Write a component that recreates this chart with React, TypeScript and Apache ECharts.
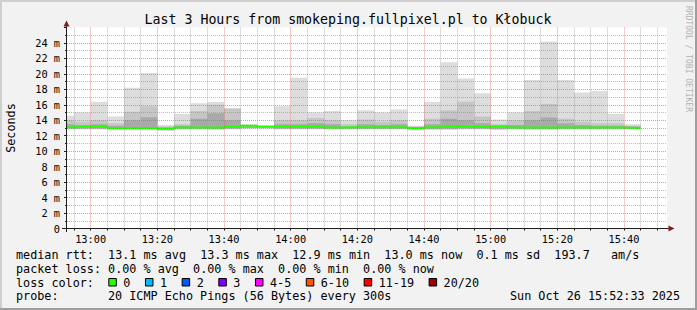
import React, { useEffect, useRef } from 'react';
import * as echarts from 'echarts';

// ---------- data ----------
const TITLE = 'Last 3 Hours from smokeping.fullpixel.pl to Kłobuck';
const Y_TITLE = 'Seconds';
const WATERMARK = 'RRDTOOL / TOBI OETIKER';
const TIMESTAMP = 'Sun Oct 26 15:52:33 2025';
const PROBE_TEXT = '20 ICMP Echo Pings (56 Bytes) every 300s';

// end time of every 5-minute step (each value covers the 5 minutes before it)
const stepEnds = [
  '12:55', '13:00', '13:05', '13:10', '13:15', '13:20', '13:25', '13:30', '13:35', '13:40',
  '13:45', '13:50', '13:55', '14:00', '14:05', '14:10', '14:15', '14:20', '14:25', '14:30',
  '14:35', '14:40', '14:45', '14:50', '14:55', '15:00', '15:05', '15:10', '15:15', '15:20',
  '15:25', '15:30', '15:35', '15:40', '15:45',
];
// smoke (ms): outer max, second band top, core band top, band bottom, outer min
const smokeMax = [
  14.6, 15.0, 16.4, 14.5, 18.2, 20.1, 13.4, 14.8, 16.2, 16.4,
  15.6, 13.5, 13.3, 15.8, 19.5, 15.0, 15.2, 14.0, 15.3, 15.0,
  15.4, 13.3, 16.4, 21.5, 19.4, 17.5, 14.1, 15.0, 19.2, 24.2,
  19.2, 17.6, 17.8, 14.8, 13.5,
];
const smokeMid = [
  14.0, 13.8, 14.0, 13.6, 15.1, 15.8, 13.2, 13.5, 15.2, 16.0,
  15.5, 13.3, 13.2, 14.0, 14.0, 14.3, 14.0, 13.5, 14.1, 13.8,
  14.0, 13.2, 14.2, 15.3, 16.4, 14.5, 13.5, 14.0, 15.2, 16.1,
  14.2, 13.8, 13.6, 13.6, 13.3,
];
const smokeCore = [
  13.5, 13.4, 13.5, 13.3, 14.0, 14.4, 13.05, 13.3, 14.2, 14.9,
  14.0, 13.15, 13.1, 13.5, 13.5, 13.6, 13.5, 13.2, 13.5, 13.4,
  13.5, 13.1, 13.5, 14.2, 14.0, 13.6, 13.3, 13.4, 14.0, 14.35,
  13.6, 13.4, 13.3, 13.3, 13.15,
];
const smokeLow = [
  12.95, 12.95, 12.95, 12.9, 12.9, 12.9, 12.8, 12.95, 12.95, 12.9,
  12.95, 13.0, 13.0, 12.95, 12.95, 12.95, 12.95, 12.95, 12.95, 12.95,
  12.95, 12.85, 12.9, 12.9, 12.95, 12.95, 12.9, 12.95, 12.9, 12.9,
  12.95, 12.95, 12.95, 12.95, 12.95,
];
const smokeMin = [
  12.8, 12.8, 12.8, 12.75, 12.75, 12.75, 12.6, 12.8, 12.8, 12.75,
  12.8, 12.85, 12.85, 12.8, 12.8, 12.8, 12.8, 12.8, 12.8, 12.8,
  12.8, 12.7, 12.7, 12.75, 12.8, 12.8, 12.7, 12.8, 12.75, 12.75,
  12.8, 12.8, 12.8, 12.8, 12.8,
];
const medianRtt = [
  13.1, 13.15, 13.15, 13.0, 13.0, 13.0, 12.9, 13.05, 13.05, 13.05,
  13.15, 13.3, 13.2, 13.15, 13.15, 13.15, 13.05, 13.1, 13.1, 13.1,
  13.1, 13.0, 13.1, 13.2, 13.15, 13.1, 13.2, 13.05, 13.05, 13.05,
  13.05, 13.05, 13.05, 13.05, 13.0,
];

const xTickLabels = ['13:00', '13:20', '13:40', '14:00', '14:20', '14:40', '15:00', '15:20', '15:40'];
const xMinorTicks = [
  '12:55', '13:00', '13:05', '13:10', '13:15', '13:20', '13:25', '13:30', '13:35', '13:40',
  '13:45', '13:50', '13:55', '14:00', '14:05', '14:10', '14:15', '14:20', '14:25', '14:30',
  '14:35', '14:40', '14:45', '14:50', '14:55', '15:00', '15:05', '15:10', '15:15', '15:20',
  '15:25', '15:30', '15:35', '15:40', '15:45', '15:50',
];
const yMajor = [2, 4, 6, 8, 10, 12, 14, 16, 18, 20, 22, 24];
const yMinor = [1, 3, 5, 7, 9, 11, 13, 15, 17, 19, 21, 23, 25];

const rttStatValues = [13.1, 13.3, 12.9, 13.0];
const lossStatValues = [0, 0, 0, 0];
const statNames = ['avg', 'max', 'min', 'now'];
const rttSd = 0.1;
const amps = 193.7;
const lossLabels = ['0', '1', '2', '3', '4-5', '6-10', '11-19', '20/20'];
const lossColors = ['#26ff00', '#00b8ff', '#0059ff', '#7e00ff', '#ff00ff', '#ff5500', '#ff0000', '#a10000'];

// ---------- helpers ----------
const toMin = (s: string) => {
  const [h, m, sec] = s.split(':').map(Number);
  return h * 60 + m + (sec || 0) / 60;
};
const fmtTime = (v: number) => {
  const r = Math.round(v);
  const h = Math.floor(r / 60);
  const m = r - h * 60;
  return `${h}:${String(m).padStart(2, '0')}`;
};
const STEP = 5;
const VIEW_START = toMin('12:52:54');
const VIEW_END = VIEW_START + 180;
const MONO = "'DejaVu Sans Mono', monospace";

export default function App() {
  const ref = useRef<HTMLDivElement>(null);
  useEffect(() => {
    if (!ref.current) return;
    const chart = echarts.init(ref.current, undefined, { renderer: 'svg' });

    const smokeData = stepEnds.map((t, i) => [toMin(t), smokeMin[i], smokeMax[i], smokeLow[i], smokeMid[i], smokeCore[i]]);
    const medianData = stepEnds.map((t, i) => [toMin(t) - STEP, medianRtt[i]]);
    medianData.push([toMin(stepEnds[stepEnds.length - 1]), medianRtt[medianRtt.length - 1]]);

    const majorX = xTickLabels.map(toMin);
    const minorX = xMinorTicks.map(toMin).filter((v) => !majorX.includes(v));
    const redDot = { color: 'rgba(222,79,79,0.6)', width: 1, type: [1, 1] as number[] };
    const greyDot = { color: 'rgba(143,143,143,0.6)', width: 1, type: [1, 1] as number[] };
    const gridLines = [
      ...minorX.map((v) => ({ xAxis: v, lineStyle: greyDot })),
      ...yMinor.map((v) => ({ yAxis: v, lineStyle: greyDot })),
      ...majorX.map((v) => ({ xAxis: v, lineStyle: redDot })),
      ...yMajor.map((v) => ({ yAxis: v, lineStyle: redDot })),
    ];

    const line1 =
      'median rtt:  ' +
      rttStatValues.map((v, i) => `${v.toFixed(1)} ms ${statNames[i]}`).join('  ') +
      `  ${rttSd.toFixed(1)} ms sd  ${amps.toFixed(1)}   am/s`;
    const line2 =
      'packet loss: ' + lossStatValues.map((v, i) => `${v.toFixed(2)} % ${statNames[i]}`).join('  ');

    const legendFont = { fontFamily: MONO, fontSize: 11.78, fill: '#000' };
    const lossItems: any[] = [];
    let bx = 108.3;
    lossLabels.forEach((lab, i) => {
      lossItems.push({
        type: 'rect', shape: { x: bx + 0.5, y: 278.5, width: 7.5, height: 7.5 },
        style: { fill: lossColors[i], stroke: '#000', lineWidth: 1 },
      });
      lossItems.push({
        type: 'text', x: bx + 15, y: 282.5,
        style: { text: lab, ...legendFont, verticalAlign: 'middle' },
      });
      bx += 29.6 + 7.07 * lab.length;
    });

    const option: any = {
      animation: false,
      backgroundColor: '#f2f2f2',
      grid: {
        left: 67, top: 27.5, right: 30, bottom: 81.5,
        show: true, backgroundColor: '#ffffff', borderWidth: 0,
        containLabel: false, outerBoundsMode: 'none',
      },
      xAxis: {
        type: 'value', min: VIEW_START, max: VIEW_END,
        axisLine: { show: false },
        splitLine: { show: false },
        axisTick: {
          show: true, length: 2, customValues: xMinorTicks.map(toMin),
          lineStyle: { color: '#1f1f1f' },
        },
        axisLabel: {
          customValues: majorX, formatter: (v: number) => fmtTime(v),
          fontFamily: MONO, fontSize: 10.3, color: '#000', margin: 5,
        },
      },
      yAxis: {
        type: 'value', min: 0, max: 26, interval: 2,
        axisLine: { show: false },
        splitLine: { show: false },
        axisTick: { show: true, length: 3, lineStyle: { color: '#1f1f1f' } },
        minorTick: { show: true, splitNumber: 2, length: 2, lineStyle: { color: '#1f1f1f' } },
        axisLabel: {
          formatter: (v: number) => (v === 0 ? '0' : `${v} m`),
          showMaxLabel: false,
          fontFamily: MONO, fontSize: 10.3, color: '#000', margin: 7,
        },
      },
      series: [
        {
          type: 'custom', z: 2, clip: true, silent: true,
          encode: { x: 0, y: 2 },
          data: smokeData,
          renderItem: (_params: any, api: any) => {
            const end = api.value(0) as number;
            const start = Math.max(end - STEP, VIEW_START);
            const layers: [number, number, string][] = [
              [1, 2, '#dddddd'],
              [3, 4, '#c6c6c6'],
              [3, 5, '#a9a9a9'],
            ];
            return {
              type: 'group',
              children: layers.map(([lo, hi, fill]) => {
                const a = api.coord([start, api.value(hi)]);
                const b = api.coord([end, api.value(lo)]);
                return {
                  type: 'rect',
                  shape: { x: a[0], y: a[1], width: b[0] - a[0], height: b[1] - a[1] },
                  style: { fill },
                };
              }),
            };
          },
        },
        {
          type: 'line', z: 3, silent: true, data: medianData,
          showSymbol: false, symbol: 'none',
          lineStyle: { opacity: 0, width: 0 },
          markLine: {
            silent: true, symbol: ['none', 'none'], label: { show: false },
            emphasis: { disabled: true }, animation: false,
            data: gridLines,
          },
        },
        {
          type: 'line', z: 4, silent: true, data: medianData, step: 'end',
          showSymbol: false, symbol: 'none', clip: true,
          lineStyle: { color: '#26ff00', width: 2 },
        },
      ],
      graphic: [
        // frame shading
        { type: 'rect', shape: { x: 0, y: 0, width: 697, height: 2 }, style: { fill: '#cfcfcf' }, silent: true },
        { type: 'rect', shape: { x: 0, y: 0, width: 2, height: 310 }, style: { fill: '#cfcfcf' }, silent: true },
        { type: 'rect', shape: { x: 0, y: 308, width: 697, height: 2 }, style: { fill: '#9e9e9e' }, silent: true },
        { type: 'rect', shape: { x: 695, y: 0, width: 2, height: 310 }, style: { fill: '#9e9e9e' }, silent: true },
        // axes
        { type: 'line', shape: { x1: 66.5, y1: 232, x2: 66.5, y2: 25 }, style: { stroke: '#1f1f1f', lineWidth: 1 }, z: 10 },
        { type: 'line', shape: { x1: 62, y1: 228.5, x2: 669, y2: 228.5 }, style: { stroke: '#1f1f1f', lineWidth: 1 }, z: 10 },
        { type: 'polygon', shape: { points: [[66.5, 20.5], [63.5, 26.5], [69.5, 26.5]] }, style: { fill: '#801f1f' }, z: 10 },
        { type: 'polygon', shape: { points: [[674.5, 228.5], [668.5, 225.5], [668.5, 231.5]] }, style: { fill: '#801f1f' }, z: 10 },
        // title
        {
          type: 'text', x: 348, y: 19,
          style: { text: TITLE, fontFamily: MONO, fontSize: 13.25, fill: '#000', align: 'center', verticalAlign: 'middle' },
        },
        // y title
        {
          type: 'text', x: 11, y: 128, rotation: Math.PI / 2,
          style: { text: Y_TITLE, fontFamily: MONO, fontSize: 11.78, fill: '#000', align: 'center', verticalAlign: 'middle' },
        },
        // watermark
        {
          type: 'text', x: 688.5, y: 59, rotation: -Math.PI / 2,
          style: { text: WATERMARK, fontFamily: MONO, fontSize: 8, fill: '#b3b3b3', align: 'center', verticalAlign: 'middle' },
        },
        // legend
        { type: 'text', x: 16, y: 255, style: { text: line1, ...legendFont, verticalAlign: 'middle' } },
        { type: 'text', x: 16, y: 268.5, style: { text: line2, ...legendFont, verticalAlign: 'middle' } },
        { type: 'text', x: 16, y: 282.5, style: { text: 'loss color:', ...legendFont, verticalAlign: 'middle' } },
        ...lossItems,
        { type: 'text', x: 16, y: 296, style: { text: 'probe:', ...legendFont, verticalAlign: 'middle' } },
        { type: 'text', x: 108, y: 296, style: { text: PROBE_TEXT, ...legendFont, verticalAlign: 'middle' } },
        { type: 'text', x: 680, y: 296, style: { text: TIMESTAMP, ...legendFont, align: 'right', verticalAlign: 'middle' } },
      ],
    };
    chart.setOption(option);
    return () => chart.dispose();
  }, []);

  return <div ref={ref} style={{ position: 'fixed', left: 0, top: 0, width: 697, height: 310 }} />;
}
